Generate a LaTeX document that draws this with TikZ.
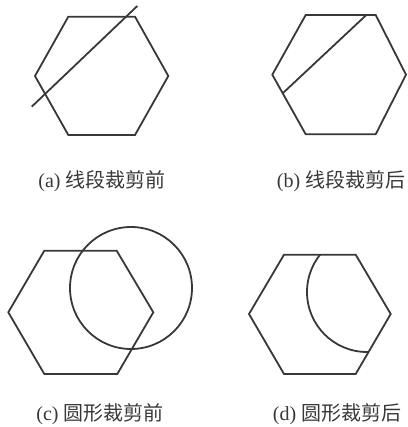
\documentclass[tikz,border=0pt]{standalone}
\usepackage{fontspec}
\setmainfont{Liberation Serif}
\newfontfamily\cjk{Noto Sans CJK SC}
\usepackage{xcolor}
\usepackage{tikz}
\usetikzlibrary{positioning}
\definecolor{ink}{HTML}{383838}
\tikzset{
  strk/.style={draw=ink, line width=1.8pt, line join=miter},
  subcap/.style={font=\fontsize{20}{23}\selectfont, text=ink, inner sep=0pt},
}

\begin{document}
\begin{tikzpicture}[x=1pt, y=-1pt]
\useasboundingbox (0,0) rectangle (407,427);

% (a) line before clipping
\draw[strk] (68.3,16.7) -- (135,16.7) -- (168.3,76) -- (135,135)
  -- (68.3,135) -- (35,76) -- cycle;
\coordinate (la1) at (31.7,106.7);
\coordinate (la2) at (137.3,6);
\draw[strk] (la1) -- (la2);
\node[subcap] (capa) at (102,181) {(a) {\cjk 线段裁剪前}};

% (b) line after clipping
\draw[strk] (305.7,15) -- (375.7,15) -- (406,74.7) -- (375.7,134.3)
  -- (305.7,134.3) -- (272.3,74.7) -- cycle;
\begin{scope}
  \clip (305.7,15) -- (375.7,15) -- (406,74.7) -- (375.7,134.3)
    -- (305.7,134.3) -- (272.3,74.7) -- cycle;
  \coordinate (lb1) at (267,108);
  \coordinate (lb2) at (377,5);
  \draw[strk] (lb1) -- (lb2);
\end{scope}
\node[subcap] (capb) at (341,181) {(b) {\cjk 线段裁剪后}};

% (c) circle before clipping
\draw[strk] (44.3,250.7) -- (116.7,250.7) -- (153.3,312.3) -- (117.3,374)
  -- (44.3,374) -- (8.3,312.3) -- cycle;
\coordinate (oc) at (131,288);
\draw[strk] (oc) circle[radius=61];
\node[subcap] (capc) at (100,414) {(c) {\cjk 圆形裁剪前}};

% (d) circle after clipping
\draw[strk] (284,254.7) -- (355.7,254.7) -- (390.7,314) -- (355.7,374)
  -- (284,374) -- (249,314) -- cycle;
\begin{scope}
  \clip (284,254.7) -- (355.7,254.7) -- (390.7,314) -- (355.7,374)
    -- (284,374) -- (249,314) -- cycle;
  \coordinate (od) at (367,292);
  \draw[strk] (od) circle[radius=60];
\end{scope}
\node[subcap] (capd) at (337,414) {(d) {\cjk 圆形裁剪后}};
\end{tikzpicture}
\end{document}
